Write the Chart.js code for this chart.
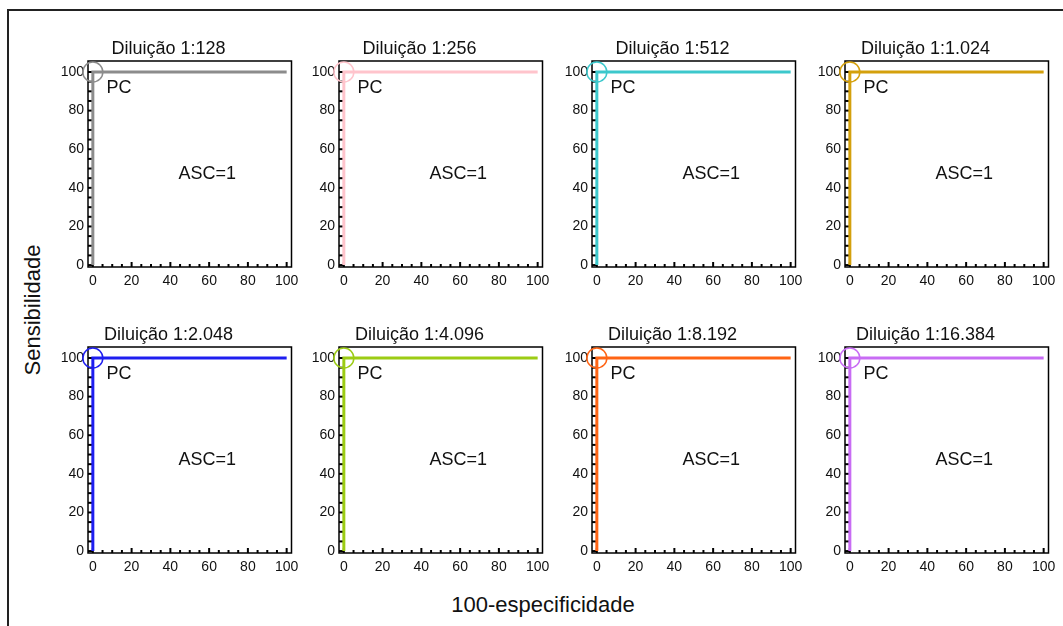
<!DOCTYPE html>
<html>
<head>
<meta charset="utf-8">
<script src="https://cdn.jsdelivr.net/npm/chart.js@4.4.1/dist/chart.umd.min.js"></script>
<style>
  body { margin: 0; background: #fff; width: 1063px; height: 626px; overflow: hidden; position: relative; font-family: "Liberation Sans", Arial, sans-serif; }
  #moldura { position: absolute; left: 7px; top: 9px; width: 1200px; height: 800px; border-left: 2px solid #222; border-top: 2px solid #222; }
  canvas { position: absolute; }
  .eixo { position: absolute; font-size: 22px; color: #111; white-space: nowrap; }
  #tituloY { left: 33px; top: 310px; transform: translate(-50%, -50%) rotate(-90deg); }
  #tituloX { left: 543px; top: 605px; transform: translate(-50%, -50%); }
</style>
</head>
<body>
<div id="moldura"></div>
<div class="eixo" id="tituloY">Sensibilidade</div>
<div class="eixo" id="tituloX">100-especificidade</div>

<script>
// dados de cada painel
const titulos = ['Diluição 1:128', 'Diluição 1:256', 'Diluição 1:512', 'Diluição 1:1.024',
                 'Diluição 1:2.048', 'Diluição 1:4.096', 'Diluição 1:8.192', 'Diluição 1:16.384'];
const cores = ['#8c8c8c', '#ffc4cc', '#3cc8cc', '#d4a00c',
               '#1e1ef0', '#9ccc14', '#ff6414', '#c86cf4'];
// curva ROC (100-especificidade, sensibilidade) - igual em todos os painéis
const rocX = [0, 0, 100];
const rocY = [0, 100, 100];
const pontoCorte = { x: 0, y: 100 };
const textoPC = 'PC';
const textoASC = 'ASC=1';

const xTicks = [0, 20, 40, 60, 80, 100];
const yTicks = [0, 20, 40, 60, 80, 100];
const menores = [0, 5, 10, 15, 20, 25, 30, 35, 40, 45, 50, 55, 60, 65, 70, 75, 80, 85, 90, 95, 100];

const colunas = [88, 339, 592, 845];
const linhas = [61, 347];

const fonte = '"Liberation Sans", Arial, sans-serif';

const pluginMoldura = {
    id: 'moldura',
    beforeDatasetsDraw(chart) {
        const ctx = chart.ctx;
        const a = chart.chartArea;
        const sx = chart.scales.x;
        const sy = chart.scales.y;
        ctx.save();
        ctx.strokeStyle = '#000';
        // marcas menores para dentro
        ctx.lineWidth = 2;
        menores.forEach(v => {
            const px = sx.getPixelForValue(v);
            const len = v % 20 === 0 ? 5 : 3;
            ctx.beginPath();
            ctx.moveTo(px, a.bottom);
            ctx.lineTo(px, a.bottom - len);
            ctx.stroke();
            const py = sy.getPixelForValue(v);
            ctx.beginPath();
            ctx.moveTo(a.left, py);
            ctx.lineTo(a.left + 5, py);
            ctx.stroke();
        });
        ctx.lineWidth = 1.5;
        ctx.strokeRect(a.left, a.top, a.right - a.left, a.bottom - a.top);
        // textos PC e ASC
        ctx.fillStyle = '#111';
        ctx.font = '18px ' + fonte;
        ctx.textBaseline = 'middle';
        ctx.textAlign = 'left';
        ctx.fillText(textoPC, sx.getPixelForValue(7), sy.getPixelForValue(91.5));
        ctx.textAlign = 'center';
        ctx.fillText(textoASC, sx.getPixelForValue(59), sy.getPixelForValue(47));
        ctx.restore();
    }
};

titulos.forEach((titulo, i) => {
    const boxLeft = colunas[i % 4];
    const boxTop = linhas[Math.floor(i / 4)];
    const canvas = document.createElement('canvas');
    canvas.width = 260;
    canvas.height = 270;
    canvas.style.left = (boxLeft - 45) + 'px';
    canvas.style.top = (boxTop - 36) + 'px';
    document.body.appendChild(canvas);

    new Chart(canvas.getContext('2d'), {
        type: 'line',
        data: {
            datasets: [{
                data: rocX.map((x, k) => ({ x: x, y: rocY[k] })),
                borderColor: cores[i],
                borderWidth: 3,
                pointRadius: 0,
                tension: 0
            }, {
                data: [pontoCorte],
                showLine: false,
                clip: false,
                pointRadius: 10,
                pointStyle: 'circle',
                pointBorderColor: cores[i],
                pointBackgroundColor: 'rgba(0,0,0,0)',
                pointBorderWidth: 1.5
            }]
        },
        options: {
            responsive: false,
            animation: false,
            devicePixelRatio: 1,
            layout: { padding: { left: 0, right: 9, top: 0, bottom: 0 } },
            plugins: {
                legend: { display: false },
                tooltip: { enabled: false },
                title: {
                    display: true,
                    text: titulo,
                    color: '#111',
                    font: { family: fonte, size: 18, weight: 'normal', lineHeight: 1.2 },
                    padding: { top: 13, bottom: 1.4 }
                }
            },
            scales: {
                x: {
                    type: 'linear',
                    min: -2.5,
                    max: 102.5,
                    grid: { display: false, drawTicks: false },
                    border: { display: false },
                    afterBuildTicks: s => { s.ticks = xTicks.map(v => ({ value: v })); },
                    afterFit: s => { s.height = 28; s.paddingLeft = 0; s.paddingRight = 0; },
                    ticks: { color: '#111', font: { family: fonte, size: 14 }, padding: 6, autoSkip: false, maxRotation: 0 }
                },
                y: {
                    type: 'linear',
                    min: -1,
                    max: 105.7,
                    grid: { display: false, drawTicks: false },
                    border: { display: false },
                    afterBuildTicks: s => { s.ticks = yTicks.map(v => ({ value: v })); },
                    afterFit: s => { s.width = 45; s.paddingTop = 0; s.paddingBottom = 0; },
                    ticks: { color: '#111', font: { family: fonte, size: 14 }, padding: 4, autoSkip: false }
                }
            }
        },
        plugins: [pluginMoldura]
    });
});
</script>
</body>
</html>
